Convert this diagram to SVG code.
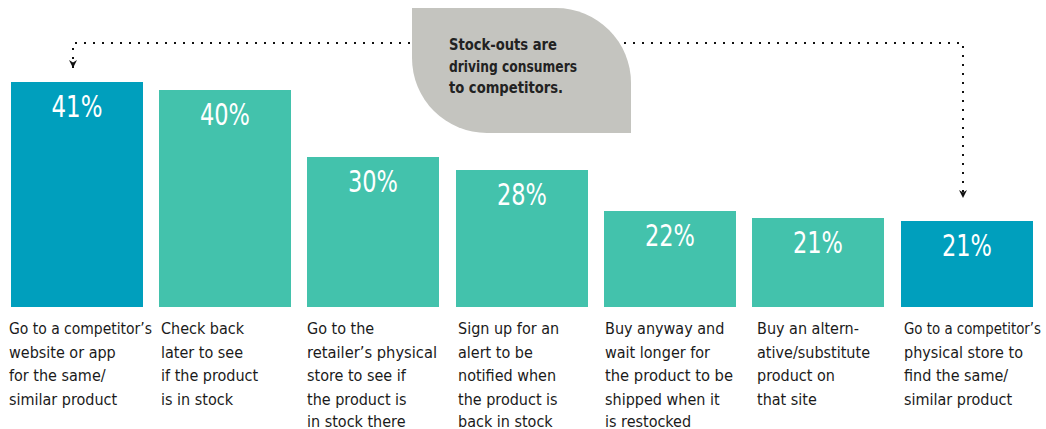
<svg xmlns="http://www.w3.org/2000/svg" width="1046" height="429" viewBox="0 0 1046 429">
<style>
.bar{fill:#43c2ac}
.bar.blue{fill:#009fbd}
.pct{font-family:"DejaVu Sans Condensed","DejaVu Sans",sans-serif;font-stretch:condensed;font-size:31px;fill:#fff;text-anchor:middle}
.lbl{font-family:"DejaVu Sans Condensed","DejaVu Sans",sans-serif;font-stretch:condensed;font-size:16px;fill:#1a1a1a}
.call{font-family:"DejaVu Sans Condensed","DejaVu Sans",sans-serif;font-stretch:condensed;font-size:16px;font-weight:bold;fill:#222}
.dots{fill:none;stroke:#111;stroke-width:2;stroke-dasharray:2 7}
</style>
<defs>
<marker id="arr" viewBox="0 0 10 10" refX="10" refY="5" markerWidth="8" markerHeight="8" markerUnits="userSpaceOnUse" orient="auto-start-reverse">
<path d="M0,0 L10,5 L0,10 L3,5 Z" fill="#111"/>
</marker>
</defs>
<rect width="1046" height="429" fill="#fff"/>
<g id="connectors">
<path class="dots" d="M73,68 V43 H963 V198" marker-start="url(#arr)" marker-end="url(#arr)"/>
</g>
<g id="callout">
<path d="M412,8 H556 A75,75 0 0 1 631,83 V133 H487 A75,75 0 0 1 412,58 Z" fill="#c4c4bf"/>
<text class="call" x="449" y="50" textLength="108" lengthAdjust="spacingAndGlyphs">Stock-outs are</text>
<text class="call" x="449" y="71.5" textLength="128" lengthAdjust="spacingAndGlyphs">driving consumers</text>
<text class="call" x="449" y="93" textLength="114" lengthAdjust="spacingAndGlyphs">to competitors.</text>
</g>
<g id="bar1">
<rect class="bar blue" x="11" y="82" width="132" height="225"/>
<text class="pct" x="77" y="117" textLength="51" lengthAdjust="spacingAndGlyphs">41%</text>
<text class="lbl" x="9" y="334" textLength="143" lengthAdjust="spacingAndGlyphs">Go to a competitor’s</text>
<text class="lbl" x="9" y="358">website or app</text>
<text class="lbl" x="9" y="381">for the same/</text>
<text class="lbl" x="9" y="405">similar product</text>
</g>
<g id="bar2">
<rect class="bar" x="159" y="90" width="132" height="217"/>
<text class="pct" x="225" y="125" textLength="50" lengthAdjust="spacingAndGlyphs">40%</text>
<text class="lbl" x="161" y="334">Check back</text>
<text class="lbl" x="161" y="358">later to see</text>
<text class="lbl" x="161" y="381">if the product</text>
<text class="lbl" x="161" y="405">is in stock</text>
</g>
<g id="bar3">
<rect class="bar" x="307" y="157" width="132" height="150"/>
<text class="pct" x="373" y="192" textLength="50" lengthAdjust="spacingAndGlyphs">30%</text>
<text class="lbl" x="307" y="334">Go to the</text>
<text class="lbl" x="307" y="358" textLength="130" lengthAdjust="spacingAndGlyphs">retailer’s physical</text>
<text class="lbl" x="307" y="381">store to see if</text>
<text class="lbl" x="307" y="405">the product is</text>
<text class="lbl" x="307" y="427">in stock there</text>
</g>
<g id="bar4">
<rect class="bar" x="456" y="170" width="132" height="137"/>
<text class="pct" x="522" y="205" textLength="50" lengthAdjust="spacingAndGlyphs">28%</text>
<text class="lbl" x="458" y="334">Sign up for an</text>
<text class="lbl" x="458" y="358">alert to be</text>
<text class="lbl" x="458" y="381">notified when</text>
<text class="lbl" x="458" y="405">the product is</text>
<text class="lbl" x="458" y="427">back in stock</text>
</g>
<g id="bar5">
<rect class="bar" x="604" y="211" width="132" height="96"/>
<text class="pct" x="670" y="246" textLength="50" lengthAdjust="spacingAndGlyphs">22%</text>
<text class="lbl" x="605" y="334">Buy anyway and</text>
<text class="lbl" x="605" y="358">wait longer for</text>
<text class="lbl" x="605" y="381" textLength="128" lengthAdjust="spacingAndGlyphs">the product to be</text>
<text class="lbl" x="605" y="405">shipped when it</text>
<text class="lbl" x="605" y="427">is restocked</text>
</g>
<g id="bar6">
<rect class="bar" x="752" y="218" width="132" height="89"/>
<text class="pct" x="818" y="253" textLength="50" lengthAdjust="spacingAndGlyphs">21%</text>
<text class="lbl" x="757" y="334">Buy an altern-</text>
<text class="lbl" x="757" y="358" textLength="113" lengthAdjust="spacingAndGlyphs">ative/substitute</text>
<text class="lbl" x="757" y="381">product on</text>
<text class="lbl" x="757" y="405">that site</text>
</g>
<g id="bar7">
<rect class="bar blue" x="901" y="221" width="132" height="86"/>
<text class="pct" x="967" y="256" textLength="50" lengthAdjust="spacingAndGlyphs">21%</text>
<text class="lbl" x="904" y="334" textLength="137" lengthAdjust="spacingAndGlyphs">Go to a competitor’s</text>
<text class="lbl" x="904" y="358">physical store to</text>
<text class="lbl" x="904" y="381">find the same/</text>
<text class="lbl" x="904" y="405">similar product</text>
</g>
</svg>
